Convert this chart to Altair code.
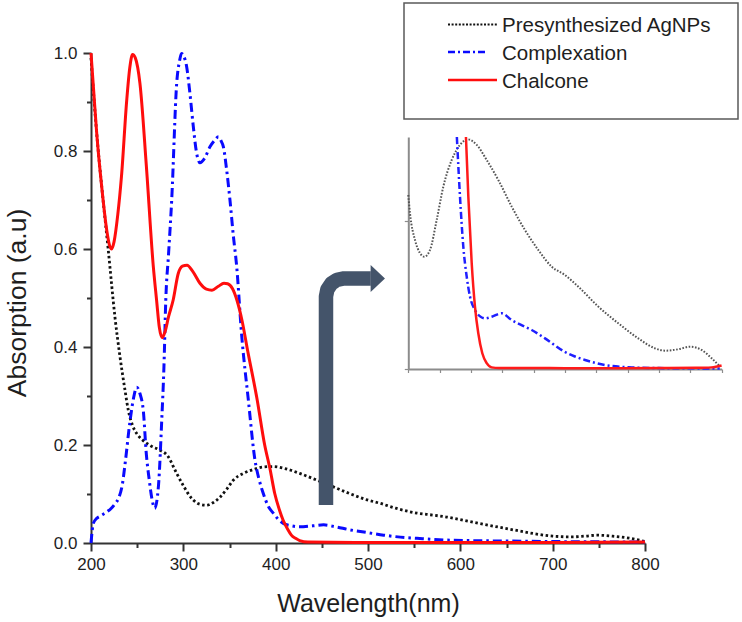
import altair as alt
import pandas as pd

FONT = "Liberation Sans"

series_names = ["Presynthesized AgNPs", "Complexation", "Chalcone"]

# ---- main spectra (wavelength nm, absorption a.u.) ----
agnp_wl = [200, 206, 212, 218.7, 226, 231.4, 236.8, 240.4, 245, 250, 256, 265, 274, 283, 292,
           300, 310, 318, 325, 332, 340, 347, 354, 365, 376, 386, 397, 410, 426, 445,
           462, 480, 499, 513, 530, 553, 570, 585, 620, 657, 680, 700, 720, 735, 748,
           765, 784, 800]
agnp_ab = [0.99, 0.84, 0.72, 0.598, 0.46, 0.38, 0.312, 0.271, 0.24, 0.222, 0.21, 0.198, 0.19, 0.178, 0.145,
           0.117, 0.089, 0.079, 0.077, 0.082, 0.094, 0.11, 0.128, 0.142, 0.150, 0.155, 0.156, 0.152, 0.142, 0.128,
           0.115, 0.101, 0.088, 0.081, 0.071, 0.061, 0.057, 0.053, 0.040, 0.027, 0.019, 0.014, 0.0125, 0.014, 0.016,
           0.014, 0.0096, 0.003]

comp_wl = [200, 202.5, 206, 210, 216, 222, 226, 230, 234, 237, 242, 246, 249.5, 253, 256.6,
           260, 263, 266, 269, 273, 276.6, 279, 281, 284, 287.4, 292.8, 296, 298, 300, 303.6,
           307, 310.8, 314, 318, 323, 329, 334, 338, 341, 343.3, 347, 350.5, 354, 357.8, 363,
           370.4, 377.6, 382, 386.6, 392, 397.4, 403, 408.3, 417, 426, 440, 452, 465, 480, 500,
           517, 535, 553, 585, 650, 700, 800]
comp_ab = [0.0, 0.04, 0.05, 0.055, 0.062, 0.071, 0.08, 0.092, 0.12, 0.163, 0.245, 0.295, 0.318, 0.305, 0.271,
           0.18, 0.13, 0.09, 0.071, 0.115, 0.25, 0.36, 0.496, 0.59, 0.70, 0.938, 0.985, 0.999, 0.995, 0.972,
           0.92, 0.85, 0.80, 0.776, 0.785, 0.809, 0.822, 0.829, 0.82, 0.809, 0.76, 0.70, 0.63, 0.564, 0.428,
           0.292, 0.169, 0.13, 0.101, 0.075, 0.061, 0.048, 0.040, 0.035, 0.033, 0.035, 0.037, 0.033, 0.027, 0.021,
           0.016, 0.012, 0.0096, 0.006, 0.004, 0.003, 0.002]

chal_wl = [200, 203, 206.2, 211.6, 217, 220, 222.4, 225, 229, 233, 238.7, 242, 245, 248, 253,
           260, 267.5, 271, 274, 277, 280, 284, 289, 294.5, 299, 304, 310, 318, 325, 331,
           338, 344, 348, 353, 358, 364, 369, 380, 388, 394, 399, 404, 408, 413, 417,
           422, 426, 435, 500, 600, 700, 800]
chal_ab = [1.0, 0.92, 0.836, 0.727, 0.639, 0.608, 0.60, 0.615, 0.67, 0.748, 0.904, 0.97, 0.997, 0.99, 0.938,
           0.768, 0.564, 0.496, 0.44, 0.419, 0.43, 0.462, 0.496, 0.55, 0.565, 0.567, 0.555, 0.53, 0.518, 0.516,
           0.524, 0.53, 0.529, 0.52, 0.496, 0.45, 0.399, 0.292, 0.201, 0.15, 0.101, 0.068, 0.047, 0.028, 0.016,
           0.009, 0.005, 0.002, 0.001, 0.001, 0.001, 0.002]

# ---- inset spectra (300-800 nm, relative units) ----
in_agnp_wl = [300, 302.7, 310.7, 318.7, 325.5, 334.6, 345.3, 355.9, 369.3, 382.5,
              394.8, 409.2, 425.1, 443.6, 465, 486.2, 507.5, 528.8, 550, 571.3,
              603.2, 635.1, 667, 693.7, 709.7, 730.9, 749.6, 768.2, 784.2, 797.5]
in_agnp_ab = [0.75, 0.671, 0.556, 0.499, 0.484, 0.513, 0.642, 0.786, 0.901, 0.966,
              0.99, 0.966, 0.901, 0.815, 0.70, 0.599, 0.513, 0.441, 0.405, 0.355,
              0.269, 0.197, 0.132, 0.089, 0.079, 0.085, 0.096, 0.082, 0.046, 0.01]

in_comp_wl = [377.5, 382.5, 387.8, 393.2, 398.5, 406.4, 414, 422.4, 433.1, 449,
              465, 480, 496.9, 518.2, 549, 565, 582, 614, 656.5, 700, 750, 797]
in_comp_ab = [1.0, 0.743, 0.527, 0.398, 0.312, 0.254, 0.228, 0.218, 0.225, 0.24,
              0.211, 0.19, 0.168, 0.132, 0.075, 0.055, 0.039, 0.017, 0.007, 0.004, 0.003, 0.002]

in_chal_wl = [392, 395.8, 401.2, 406.4, 411.7, 418.1, 425.1, 433.1, 445, 500, 600, 700, 760, 784, 800]
in_chal_ab = [1.0, 0.743, 0.456, 0.269, 0.154, 0.068, 0.025, 0.007, 0.004, 0.004, 0.003, 0.004, 0.005, 0.007, 0.015]

x_ticks = list(range(200, 801, 50))
y_ticks = [round(i * 0.1, 1) for i in range(11)]
inset_x_ticks = list(range(300, 801, 50))
inset_y_ticks = [0, 0.64]

# annotation arrow path (in main data coordinates)
arrow_wl = [454.5, 454.5, 456.0, 460.2, 466.5, 474.0, 503.0]
arrow_ab = [0.0776, 0.5033, 0.5173, 0.5293, 0.5372, 0.540, 0.540]
arrow_head_wl = [510.6]
arrow_head_ab = [0.540]

ARROW = "#44546a"
AXIS = "#333333"
TXT = "#1e1e1e"
INSET_AXIS = "#8c8c8c"


def frame(wl, ab):
    return pd.DataFrame({"wl": wl, "ab": ab})


main_x = alt.X(
    "wl:Q",
    scale=alt.Scale(domain=[200, 800], nice=False, zero=False),
    axis=alt.Axis(
        values=x_ticks, format="d",
        labelExpr="datum.value % 100 === 0 ? datum.label : ''",
        tickSize={"condition": {"test": "datum.value % 100 !== 0", "value": 4.5}, "value": 8},
        tickColor=AXIS, tickWidth=2, domainColor=AXIS, domainWidth=2, grid=False,
        labelFont=FONT, labelFontSize=17, labelColor=TXT, labelPadding=5,
        labelFlush=False, labelOverlap=False,
        title="Wavelength(nm)", titleFont=FONT, titleFontSize=25, titleFontWeight="normal",
        titleColor=TXT, titleX=277, titleY=68, titleAlign="center", titleBaseline="alphabetic",
    ),
)
main_y = alt.Y(
    "ab:Q",
    scale=alt.Scale(domain=[0, 1], nice=False, zero=False),
    axis=alt.Axis(
        values=y_ticks,
        labelExpr="round(datum.value * 10) % 2 === 0 ? format(datum.value, '.1f') : ''",
        tickSize={"condition": {"test": "round(datum.value * 10) % 2 !== 0", "value": 4.5}, "value": 8},
        tickColor=AXIS, tickWidth=2, domainColor=AXIS, domainWidth=2, grid=False,
        labelFont=FONT, labelFontSize=17, labelColor=TXT, labelPadding=6,
        labelFlush=False, labelOverlap=False,
        title="Absorption (a.u)", titleFont=FONT, titleFontSize=26.5, titleFontWeight="normal",
        titleColor=TXT, titleAngle=270, titleX=-65.3, titleY=249.5, titleAlign="center",
        titleBaseline="alphabetic",
    ),
)

main_styles = [
    dict(color="#111111", strokeDash=[2.5, 2.6], strokeWidth=2.8),
    dict(color="#0a0aff", strokeDash=[9, 4, 2.5, 4], strokeWidth=3),
    dict(color="#ff0d0d", strokeWidth=3),
]
main_data = [(agnp_wl, agnp_ab), (comp_wl, comp_ab), (chal_wl, chal_ab)]

main_layers = []
for (wl, ab), st in zip(main_data, main_styles):
    main_layers.append(
        alt.Chart(frame(wl, ab)).mark_line(interpolate="monotone", **st).encode(x=main_x, y=main_y)
    )

arrow_df = pd.DataFrame({"wl": arrow_wl, "ab": arrow_ab, "i": list(range(len(arrow_wl)))})
arrow_line = alt.Chart(arrow_df).mark_line(
    color=ARROW, strokeWidth=14.5, strokeJoin="round", strokeCap="butt"
).encode(x=main_x, y=main_y, order="i:Q")
arrow_head = alt.Chart(frame(arrow_head_wl, arrow_head_ab)).mark_point(
    shape="M -0.53,-1 L 0.53,0 L -0.53,1 Z", size=729, filled=True,
    color=ARROW, fill=ARROW, opacity=1, strokeWidth=0,
).encode(x=main_x, y=main_y)

one = pd.DataFrame({"k": [0]})
legend_box = alt.Chart(one).mark_rect(fill="white", stroke="#5a5a5a", strokeWidth=1.5).encode(
    x=alt.value(313), x2=alt.value(647), y=alt.value(-50), y2=alt.value(66)
)
legend_styles = [
    dict(color="#111111", strokeDash=[2, 1.6], strokeWidth=2),
    dict(color="#0a0aff", strokeDash=[7, 3, 2, 3], strokeWidth=2.5),
    dict(color="#ff0d0d", strokeWidth=2.5),
]
legend_x_end = [406, 396, 406]
legend_line_y = [-28.5, -1, 27]
legend_text_y = [-21, 7, 34.5]
legend_layers = [legend_box]
for name, st, xe, ly, ty in zip(series_names, legend_styles, legend_x_end, legend_line_y, legend_text_y):
    legend_layers.append(
        alt.Chart(one).mark_rule(**st).encode(x=alt.value(357), x2=alt.value(xe), y=alt.value(ly))
    )
    legend_layers.append(
        alt.Chart(one).mark_text(
            text=name, align="left", baseline="alphabetic", font=FONT, fontSize=20.5, color=TXT
        ).encode(x=alt.value(411), y=alt.value(ty))
    )

main = alt.layer(*main_layers, arrow_line, arrow_head, *legend_layers)

inset_x = alt.X(
    "wl:Q",
    title=None,
    scale=alt.Scale(domain=[300, 800], range=[317.3, 630.6], nice=False, zero=False),
    axis=alt.Axis(
        orient="bottom", offset=-174, values=inset_x_ticks, labels=False,
        tickSize=3.5, tickColor=INSET_AXIS, tickWidth=1.2,
        domainColor=INSET_AXIS, domainWidth=2, grid=False,
    ),
)
inset_y = alt.Y(
    "ab:Q",
    title=None,
    scale=alt.Scale(domain=[0, 1], range=[316, 84], nice=False, zero=False),
    axis=alt.Axis(
        orient="left", offset=-317.3, values=inset_y_ticks, labels=False,
        tickSize=4, tickColor=INSET_AXIS, tickWidth=1.2,
        domainColor=INSET_AXIS, domainWidth=2, grid=False,
    ),
)
inset_styles = [
    dict(color="#555555", strokeDash=[1.6, 1.6], strokeWidth=2),
    dict(color="#1f1fff", strokeDash=[7, 3, 2, 3], strokeWidth=2.5),
    dict(color="#ff1a1a", strokeWidth=2.5),
]
inset_data = [(in_agnp_wl, in_agnp_ab), (in_comp_wl, in_comp_ab), (in_chal_wl, in_chal_ab)]
inset_layers = []
for (wl, ab), st in zip(inset_data, inset_styles):
    inset_layers.append(
        alt.Chart(frame(wl, ab)).mark_line(interpolate="monotone", **st).encode(x=inset_x, y=inset_y)
    )
inset = alt.layer(*inset_layers)

chart = (
    alt.layer(main, inset)
    .resolve_scale(x="independent", y="independent")
    .properties(
        width=554, height=490,
        padding={"left": 91, "top": 53, "right": 97, "bottom": 79},
        autosize=alt.AutoSizeParams(type="none"),
        background="white",
    )
    .configure_view(strokeWidth=0)
)

chart.save("out.html", embed_options={"renderer": "svg", "actions": False})
